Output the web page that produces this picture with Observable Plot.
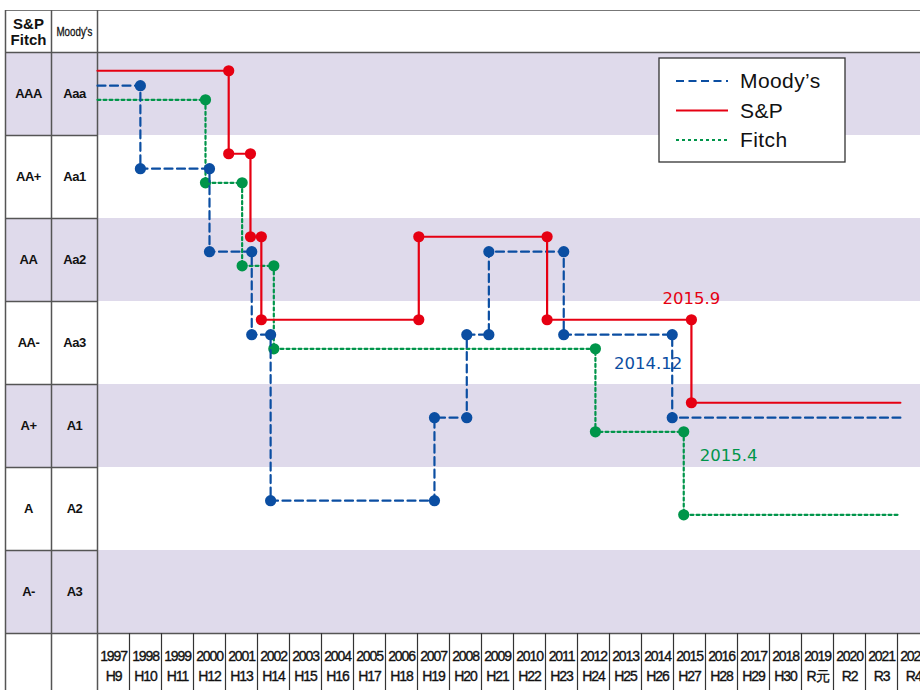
<!DOCTYPE html>
<html>
<head>
<meta charset="utf-8">
<script src="https://cdn.jsdelivr.net/npm/d3@7"></script>
<script src="https://cdn.jsdelivr.net/npm/@observablehq/plot@0.6"></script>
<style>
html, body { margin: 0; padding: 0; background: #fff; overflow: hidden; }
#chart { position: relative; width: 920px; height: 690px; }
#chart svg { display: block; max-width: none; }
.yearlbl text { letter-spacing: -1.1px; }
.ratinglbl text { letter-spacing: -0.5px; }
</style>
</head>
<body>
<div id="chart"></div>
<script>
// ---------- data ----------
const years = [1997, 1998, 1999, 2000, 2001, 2002, 2003, 2004, 2005, 2006, 2007, 2008, 2009,
               2010, 2011, 2012, 2013, 2014, 2015, 2016, 2017, 2018, 2019, 2020, 2021, 2022];
const eraLabels = ["H9", "H10", "H11", "H12", "H13", "H14", "H15", "H16", "H17", "H18", "H19", "H20", "H21",
                   "H22", "H23", "H24", "H25", "H26", "H27", "H28", "H29", "H30", "R元", "R2", "R3", "R4"];

const spFitchLabels = ["AAA", "AA+", "AA", "AA-", "A+", "A", "A-"];
const moodysLabels = ["Aaa", "Aa1", "Aa2", "Aa3", "A1", "A2", "A3"];

// rating history: each entry = rating from that date onward (last entry = end of line)
const spDates   = [1997.0, 2001.10, 2001.78, 2002.12, 2007.04, 2011.05, 2015.56, 2022.09];
const spRatings = ["AAA", "AA+", "AA", "AA-", "AA", "AA-", "A+", "A+"];

const moodysDates   = [1997.0, 1998.34, 2000.50, 2001.82, 2002.41, 2007.53, 2008.54, 2009.23, 2011.57, 2014.96, 2022.09];
const moodysRatings = ["Aaa", "Aa1", "Aa2", "Aa3", "A2", "A1", "Aa3", "Aa2", "Aa3", "A1", "A1"];

const fitchDates   = [1997.0, 2000.375, 2001.52, 2002.51, 2012.56, 2015.32, 2022.09];
const fitchRatings = ["AAA", "AA+", "AA", "AA-", "A+", "A", "A"];

const noteTexts = ["2015.9", "2014.12", "2015.4"];

// ---------- styling ----------
const colors = { sp: "#e60012", moodys: "#0b4ea2", fitch: "#00954a" };
const lane = { sp: -0.28, moodys: -0.10, fitch: 0.07 };   // vertical lane inside a rating band
const shade = "#dfdaeb";
const gridColor = "#555";
const sans = "'Liberation Sans', Arial, Helvetica, sans-serif";

// ---------- build tables ----------
function buildSeries(dates, ratings, labels, off) {
  return dates.map((t, i) => ({ t, v: labels.indexOf(ratings[i]) + off }));
}
function buildDots(dates, ratings, labels, off) {
  const out = [];
  for (let i = 1; i < dates.length; i++) {
    if (ratings[i] !== ratings[i - 1]) {
      out.push({ t: dates[i], v: labels.indexOf(ratings[i - 1]) + off });
      out.push({ t: dates[i], v: labels.indexOf(ratings[i]) + off });
    }
  }
  return out;
}
const spLine = buildSeries(spDates, spRatings, spFitchLabels, lane.sp);
const moLine = buildSeries(moodysDates, moodysRatings, moodysLabels, lane.moodys);
const fiLine = buildSeries(fitchDates, fitchRatings, spFitchLabels, lane.fitch);
const spDots = buildDots(spDates, spRatings, spFitchLabels, lane.sp);
const moDots = buildDots(moodysDates, moodysRatings, moodysLabels, lane.moodys);
const fiDots = buildDots(fitchDates, fitchRatings, spFitchLabels, lane.fitch);

const notes = [
  { text: noteTexts[0], t: spDates[6], v: spFitchLabels.indexOf("AA-") + lane.sp, color: colors.sp, dx: 0, dy: -21, anchor: "middle" },
  { text: noteTexts[1], t: moodysDates[9], v: moodysLabels.indexOf("Aa3") + lane.moodys, color: colors.moodys, dx: -24, dy: 29, anchor: "middle" },
  { text: noteTexts[2], t: fitchDates[5], v: spFitchLabels.indexOf("A+") + lane.fitch, color: colors.fitch, dx: 16, dy: 23.5, anchor: "start" }
];

const rows = spFitchLabels.map((d, i) => i);
const shadedRows = rows.filter(i => i % 2 === 0);

const lineWidth = 2.2, dotR = 5.6;

const svg = Plot.plot({
  width: 920,
  height: 690,
  margin: 0,
  x: { domain: [1997, 2022], range: [97, 897], axis: null },
  y: { domain: [-0.5, 6.5], range: [52, 633], axis: null },
  style: { fontFamily: sans, fontSize: "13px", color: "#111", background: "#fff" },
  marks: [
    // row bands
    Plot.rect(shadedRows, { y1: d => d - 0.5, y2: d => d + 0.5, fill: shade, insetLeft: 5 }),
    // table rules
    Plot.ruleY([-0.5], { dy: -42, insetLeft: 5, stroke: "#777", strokeWidth: 1.2 }),
    Plot.ruleY([-0.5, 6.5], { insetLeft: 5, stroke: gridColor, strokeWidth: 1.5 }),
    Plot.ruleY(rows.slice(1).map(i => i - 0.5), { insetLeft: 5, insetRight: 823, stroke: gridColor, strokeWidth: 1.5 }),
    Plot.ruleX(years.slice(1), { insetTop: 633, stroke: "#333", strokeWidth: 1.2 }),
    Plot.ruleX([years[0]], { insetTop: 10, stroke: gridColor, strokeWidth: 1.5 }),
    Plot.ruleX([years[0]], { insetTop: 10, dx: -46, stroke: gridColor, strokeWidth: 1.5 }),
    Plot.ruleX([years[0]], { insetTop: 10, dx: -92, stroke: gridColor, strokeWidth: 1.5 }),
    // row labels
    Plot.text(rows, { y: d => d, text: d => spFitchLabels[d], frameAnchor: "left", dx: 28, textAnchor: "middle",
                      fontWeight: "bold", fontSize: 13, fill: "#111", className: "ratinglbl" }),
    Plot.text(rows, { y: d => d, text: d => moodysLabels[d], frameAnchor: "left", dx: 74, textAnchor: "middle",
                      fontWeight: "bold", fontSize: 13, fill: "#111", className: "ratinglbl" }),
    // header
    Plot.text(["S&P\nFitch"], { frameAnchor: "top-left", dx: 28, dy: 31, textAnchor: "middle", lineAnchor: "middle",
                                lineHeight: 1.1, fontWeight: "bold", fontSize: 15, fill: "#111" }),
    Plot.text(["Moody's"], { frameAnchor: "top-left", dx: 74, dy: 31, textAnchor: "middle", lineAnchor: "middle",
                             fontSize: 13, fill: "#111", stroke: "#111", strokeWidth: 0.3, className: "moodyshdr" }),
    // year labels
    Plot.text(years, { x: d => d + 0.5, text: (d, i) => `${d}\n${eraLabels[i]}`, frameAnchor: "bottom", dy: -26,
                       lineAnchor: "middle", lineHeight: 1.4, textAnchor: "middle", fontSize: 14, fill: "#111",
                       stroke: "#111", strokeWidth: 0.35, className: "yearlbl" }),
    // Fitch
    Plot.line(fiLine, { x: "t", y: "v", curve: "step-after", stroke: colors.fitch, strokeWidth: lineWidth, strokeDasharray: "3,3" }),
    Plot.dot(fiDots, { x: "t", y: "v", r: dotR, fill: colors.fitch }),
    // Moody's
    Plot.line(moLine, { x: "t", y: "v", curve: "step-after", stroke: colors.moodys, strokeWidth: lineWidth, strokeDasharray: "8,4.5" }),
    Plot.dot(moDots, { x: "t", y: "v", r: dotR, fill: colors.moodys }),
    // S&P
    Plot.line(spLine, { x: "t", y: "v", curve: "step-after", stroke: colors.sp, strokeWidth: lineWidth }),
    Plot.dot(spDots, { x: "t", y: "v", r: dotR, fill: colors.sp }),
    // annotations
    ...notes.map(n => Plot.text([n], { x: "t", y: "v", text: "text", dx: n.dx, dy: n.dy, textAnchor: n.anchor,
                                       fill: n.color, fontFamily: "'DejaVu Sans', sans-serif", fontSize: 16.5 }))
  ]
});

document.getElementById("chart").appendChild(svg);

// condense the Moody's header like the reference
d3.select(svg).selectAll(".moodyshdr text").attr("textLength", 36).attr("lengthAdjust", "spacingAndGlyphs");

// legend box inside the plot area
const legendItems = [
  { label: "Moody’s", color: colors.moodys, dash: "8,4.5" },
  { label: "S&P", color: colors.sp, dash: null },
  { label: "Fitch", color: colors.fitch, dash: "3,3" }
];
const lg = d3.select(svg).append("g").attr("transform", "translate(659,58)");
lg.append("rect").attr("width", 186).attr("height", 104).attr("fill", "#fff")
  .attr("stroke", "#333").attr("stroke-width", 1.3);
legendItems.forEach((it, i) => {
  const cy = 23 + i * 29.5;
  lg.append("line").attr("x1", 17).attr("x2", 69).attr("y1", cy).attr("y2", cy)
    .attr("stroke", it.color).attr("stroke-width", lineWidth)
    .attr("stroke-dasharray", it.dash);
  lg.append("text").attr("x", 81).attr("y", cy).attr("dy", "0.35em").attr("text-anchor", "start")
    .attr("font-family", sans).attr("font-size", 21)
    .attr("letter-spacing", 0.4).attr("fill", "#111").text(it.label);
});
</script>
</body>
</html>
